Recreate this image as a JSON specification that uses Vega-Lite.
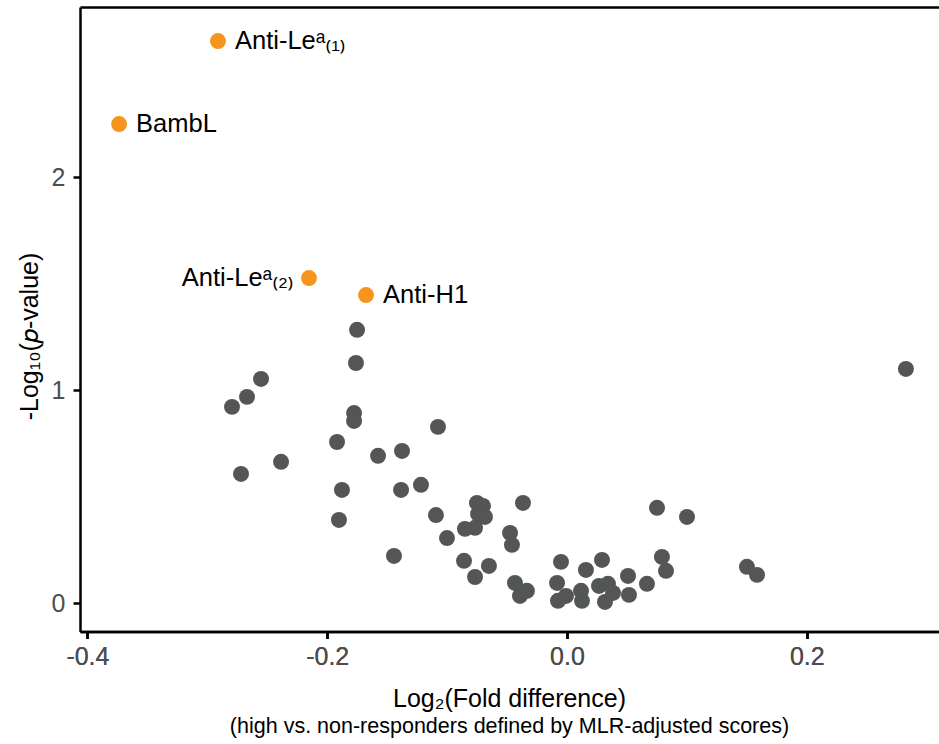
{
  "$schema": "https://vega.github.io/schema/vega-lite/v6.json",
  "width": 859,
  "height": 624.5,
  "autosize": {"type": "none"},
  "padding": {"left": 80, "top": 7, "right": 0, "bottom": 112},
  "background": "white",
  "config": {
    "view": {"stroke": null},
    "font": "Liberation Sans"
  },
  "title": {
    "text": "Log₂(Fold difference)",
    "subtitle": "(high vs. non-responders defined by MLR-adjusted scores)",
    "orient": "bottom",
    "anchor": "middle",
    "font": "Liberation Sans",
    "subtitleFont": "Liberation Sans",
    "fontSize": 25,
    "subtitleFontSize": 21.5,
    "fontWeight": "normal",
    "color": "black",
    "subtitleColor": "black",
    "offset": 17,
    "subtitlePadding": 4
  },
  "data": {
    "values": [
      {"x": -0.2911, "y": 2.640, "group": "highlight", "label": "Anti-Leᵃ₍₁₎"},
      {"x": -0.3736, "y": 2.250, "group": "highlight", "label": "BambL"},
      {"x": -0.2152, "y": 1.527, "group": "highlight", "label": "Anti-Leᵃ₍₂₎"},
      {"x": -0.1676, "y": 1.447, "group": "highlight", "label": "Anti-H1"},
      {"x": -0.1751, "y": 1.284, "group": "other", "label": ""},
      {"x": -0.1760, "y": 1.128, "group": "other", "label": ""},
      {"x": -0.2552, "y": 1.053, "group": "other", "label": ""},
      {"x": -0.2669, "y": 0.969, "group": "other", "label": ""},
      {"x": -0.2794, "y": 0.922, "group": "other", "label": ""},
      {"x": 0.2827, "y": 1.100, "group": "other", "label": ""},
      {"x": -0.1776, "y": 0.893, "group": "other", "label": ""},
      {"x": -0.1776, "y": 0.856, "group": "other", "label": ""},
      {"x": -0.1076, "y": 0.828, "group": "other", "label": ""},
      {"x": -0.1918, "y": 0.757, "group": "other", "label": ""},
      {"x": -0.1376, "y": 0.715, "group": "other", "label": ""},
      {"x": -0.1576, "y": 0.692, "group": "other", "label": ""},
      {"x": -0.2385, "y": 0.664, "group": "other", "label": ""},
      {"x": -0.2719, "y": 0.607, "group": "other", "label": ""},
      {"x": -0.1877, "y": 0.532, "group": "other", "label": ""},
      {"x": -0.1384, "y": 0.532, "group": "other", "label": ""},
      {"x": -0.1218, "y": 0.556, "group": "other", "label": ""},
      {"x": -0.1902, "y": 0.391, "group": "other", "label": ""},
      {"x": -0.1443, "y": 0.222, "group": "other", "label": ""},
      {"x": -0.1093, "y": 0.414, "group": "other", "label": ""},
      {"x": -0.1001, "y": 0.306, "group": "other", "label": ""},
      {"x": -0.0751, "y": 0.471, "group": "other", "label": ""},
      {"x": -0.0701, "y": 0.457, "group": "other", "label": ""},
      {"x": -0.0742, "y": 0.419, "group": "other", "label": ""},
      {"x": -0.0684, "y": 0.405, "group": "other", "label": ""},
      {"x": -0.0851, "y": 0.349, "group": "other", "label": ""},
      {"x": -0.0767, "y": 0.354, "group": "other", "label": ""},
      {"x": -0.0367, "y": 0.471, "group": "other", "label": ""},
      {"x": -0.0475, "y": 0.330, "group": "other", "label": ""},
      {"x": -0.0459, "y": 0.274, "group": "other", "label": ""},
      {"x": -0.0859, "y": 0.199, "group": "other", "label": ""},
      {"x": -0.0651, "y": 0.175, "group": "other", "label": ""},
      {"x": -0.0767, "y": 0.123, "group": "other", "label": ""},
      {"x": -0.0434, "y": 0.095, "group": "other", "label": ""},
      {"x": -0.0392, "y": 0.034, "group": "other", "label": ""},
      {"x": -0.0334, "y": 0.058, "group": "other", "label": ""},
      {"x": -0.0050, "y": 0.194, "group": "other", "label": ""},
      {"x": -0.0083, "y": 0.095, "group": "other", "label": ""},
      {"x": -0.0075, "y": 0.011, "group": "other", "label": ""},
      {"x": -0.0008, "y": 0.034, "group": "other", "label": ""},
      {"x": 0.0158, "y": 0.156, "group": "other", "label": ""},
      {"x": 0.0292, "y": 0.203, "group": "other", "label": ""},
      {"x": 0.0117, "y": 0.058, "group": "other", "label": ""},
      {"x": 0.0125, "y": 0.011, "group": "other", "label": ""},
      {"x": 0.0267, "y": 0.081, "group": "other", "label": ""},
      {"x": 0.0342, "y": 0.091, "group": "other", "label": ""},
      {"x": 0.0317, "y": 0.006, "group": "other", "label": ""},
      {"x": 0.0384, "y": 0.048, "group": "other", "label": ""},
      {"x": 0.0509, "y": 0.128, "group": "other", "label": ""},
      {"x": 0.0517, "y": 0.039, "group": "other", "label": ""},
      {"x": 0.0667, "y": 0.091, "group": "other", "label": ""},
      {"x": 0.0751, "y": 0.448, "group": "other", "label": ""},
      {"x": 0.1001, "y": 0.405, "group": "other", "label": ""},
      {"x": 0.0792, "y": 0.217, "group": "other", "label": ""},
      {"x": 0.0826, "y": 0.152, "group": "other", "label": ""},
      {"x": 0.1501, "y": 0.171, "group": "other", "label": ""},
      {"x": 0.1585, "y": 0.133, "group": "other", "label": ""}
    ]
  },
  "encoding": {
    "x": {
      "field": "x",
      "type": "quantitative",
      "scale": {"domain": [-0.4062, 0.3103], "nice": false, "zero": false},
      "axis": {
        "values": [-0.4, -0.2, 0, 0.2],
        "labelExpr": "replace(format(datum.value, '.1f'), '−', '-')",
        "title": null,
        "grid": false,
        "domainColor": "black",
        "domainWidth": 2.5,
        "tickColor": "black",
        "tickWidth": 2.5,
        "tickSize": 7,
        "labelPadding": 6,
        "labelFontSize": 25,
        "labelColor": "#4d4d4d",
        "labelFont": "Liberation Sans"
      }
    },
    "y": {
      "field": "y",
      "type": "quantitative",
      "scale": {"domain": [-0.133, 2.8], "nice": false, "zero": false},
      "axis": {
        "values": [0, 1, 2],
        "title": "-Log₁₀(𝑝-value)",
        "titleFont": "Liberation Sans",
        "titleFontSize": 25,
        "titleFontWeight": "normal",
        "titleColor": "black",
        "titlePadding": 9,
        "titleY": 329,
        "grid": false,
        "domainColor": "black",
        "domainWidth": 2.5,
        "tickColor": "black",
        "tickWidth": 2.5,
        "tickSize": 7,
        "labelPadding": 8,
        "labelFontSize": 25,
        "labelColor": "#4d4d4d",
        "labelFont": "Liberation Sans"
      }
    }
  },
  "layer": [
    {
      "mark": {"type": "point", "filled": true, "size": 255, "opacity": 1, "shape": "circle"},
      "encoding": {
        "color": {
          "field": "group",
          "type": "nominal",
          "scale": {"domain": ["other", "highlight"], "range": ["#535655", "#F7941D"]},
          "legend": null
        },
        "x": {
          "field": "x",
          "type": "quantitative",
          "axis": {
            "orient": "top",
            "labels": false,
            "ticks": false,
            "title": null,
            "grid": false,
            "domainColor": "black",
            "domainWidth": 2.5
          }
        }
      }
    },
    {
      "transform": [{"filter": "datum.group == 'highlight' && datum.label != 'Anti-Leᵃ₍₂₎'"}],
      "mark": {"type": "text", "align": "left", "baseline": "middle", "dx": 17, "fontSize": 25.5, "font": "Liberation Sans", "color": "black"},
      "encoding": {"text": {"field": "label"}}
    },
    {
      "transform": [{"filter": "datum.label == 'Anti-Leᵃ₍₂₎'"}],
      "mark": {"type": "text", "align": "right", "baseline": "middle", "dx": -15, "fontSize": 25.5, "font": "Liberation Sans", "color": "black"},
      "encoding": {"text": {"field": "label"}}
    }
  ],
  "resolve": {"axis": {"x": "independent"}}
}
